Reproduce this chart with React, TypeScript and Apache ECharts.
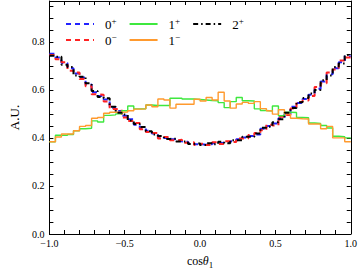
import React, { useEffect, useRef } from 'react';
import * as echarts from 'echarts';

// cos(theta1) histogram range and tick settings
const xRange = [-1, 1];
const yRange = [0, 0.97];
const xTickLabels = ['−1.0', '−0.5', '0.0', '0.5', '1.0'];
const yTickLabels = ['0.0', '0.2', '0.4', '0.6', '0.8'];

const seriesNames = ['0+', '0-', '1+', '1-', '2+'];

// 50 bins from -1 to 1
const zeroPlus = [
  0.750, 0.735, 0.712, 0.690, 0.668, 0.652, 0.622, 0.590, 0.575, 0.560,
  0.525, 0.512, 0.492, 0.478, 0.455, 0.440, 0.430, 0.418, 0.405, 0.400,
  0.394, 0.388, 0.384, 0.378, 0.374, 0.372, 0.374, 0.378, 0.380, 0.382,
  0.386, 0.394, 0.402, 0.408, 0.414, 0.438, 0.450, 0.460, 0.482, 0.500,
  0.530, 0.545, 0.562, 0.580, 0.605, 0.635, 0.665, 0.690, 0.715, 0.740,
];
const zeroMinus = [
  0.745, 0.728, 0.715, 0.680, 0.672, 0.645, 0.615, 0.582, 0.580, 0.552,
  0.520, 0.518, 0.485, 0.470, 0.462, 0.436, 0.425, 0.420, 0.398, 0.404,
  0.390, 0.392, 0.380, 0.382, 0.370, 0.376, 0.370, 0.382, 0.375, 0.386,
  0.383, 0.398, 0.398, 0.412, 0.420, 0.432, 0.455, 0.452, 0.488, 0.495,
  0.522, 0.550, 0.556, 0.575, 0.612, 0.628, 0.672, 0.685, 0.722, 0.735,
];
const onePlus = [
  0.384, 0.411, 0.411, 0.414, 0.430, 0.438, 0.440, 0.471, 0.466, 0.494,
  0.496, 0.500, 0.513, 0.533, 0.521, 0.521, 0.537, 0.535, 0.535, 0.535,
  0.565, 0.565, 0.562, 0.562, 0.560, 0.558, 0.556, 0.555, 0.547, 0.526,
  0.551, 0.568, 0.555, 0.554, 0.521, 0.514, 0.512, 0.533, 0.492, 0.507,
  0.506, 0.485, 0.484, 0.462, 0.460, 0.452, 0.441, 0.407, 0.405, 0.400,
];
const oneMinus = [
  0.384, 0.404, 0.416, 0.416, 0.430, 0.448, 0.452, 0.482, 0.485, 0.503,
  0.507, 0.507, 0.508, 0.513, 0.520, 0.521, 0.537, 0.530, 0.562, 0.558,
  0.524, 0.540, 0.540, 0.540, 0.561, 0.554, 0.568, 0.558, 0.590, 0.554,
  0.524, 0.541, 0.548, 0.544, 0.551, 0.522, 0.513, 0.499, 0.517, 0.500,
  0.482, 0.480, 0.479, 0.458, 0.458, 0.438, 0.448, 0.400, 0.400, 0.384,
];
const twoPlus = [
  0.742, 0.738, 0.705, 0.695, 0.660, 0.655, 0.628, 0.595, 0.570, 0.565,
  0.530, 0.505, 0.498, 0.472, 0.458, 0.445, 0.428, 0.414, 0.408, 0.396,
  0.397, 0.385, 0.386, 0.375, 0.377, 0.370, 0.378, 0.374, 0.384, 0.378,
  0.390, 0.390, 0.405, 0.405, 0.418, 0.442, 0.446, 0.465, 0.478, 0.505,
  0.525, 0.548, 0.566, 0.585, 0.600, 0.640, 0.660, 0.695, 0.710, 0.745,
];

const seriesValues = [zeroPlus, zeroMinus, onePlus, oneMinus, twoPlus];

function toSteps(vals: number[]) {
  const n = vals.length;
  const w = (xRange[1] - xRange[0]) / n;
  const pts: number[][] = vals.map((v, i) => [xRange[0] + i * w, v]);
  pts.push([xRange[1], vals[n - 1]]);
  return pts;
}

const FONT = 'Liberation Serif';

export default function App() {
  const ref = useRef<HTMLDivElement>(null);
  useEffect(() => {
    if (!ref.current) return;
    const chart = echarts.init(ref.current, null, { renderer: 'svg' });

    const styles = [
      { color: '#2222ff', width: 2, type: [5, 4] as any },
      { color: '#ff2222', width: 2, type: [5, 4] as any },
      { color: '#3ee83e', width: 1.4, type: 'solid' as any },
      { color: '#ff9a2e', width: 1.4, type: 'solid' as any },
      { color: '#000000', width: 2, type: [5, 3, 1.5, 3] as any },
    ];

    const xLabel = (v: number) => {
      if (Math.abs(v * 2 - Math.round(v * 2)) > 1e-6) return '';
      const idx = Math.round((v - xRange[0]) * 2);
      return xTickLabels[idx] ?? '';
    };
    const yLabel = (v: number) => {
      if (Math.abs(v * 5 - Math.round(v * 5)) > 1e-6) return '';
      return yTickLabels[Math.round(v * 5)] ?? '';
    };

    const axisCommon = {
      axisLine: { onZero: false, lineStyle: { color: '#000', width: 1 } },
      axisTick: { inside: true, length: 4, lineStyle: { color: '#000' } },
      splitLine: { show: false },
    };

    const legendFmt = (name: string) =>
      `${name[0]}{s|${name[1] === '+' ? '+' : '−'}}`;
    const legendText = {
      fontFamily: FONT,
      fontSize: 13,
      color: '#000',
      lineHeight: 16,
      padding: [0, 0, 0, 6],
      rich: {
        s: { fontFamily: FONT, fontSize: 9, lineHeight: 9, verticalAlign: 'top', color: '#000' },
      },
    };

    chart.setOption({
      animation: false,
      backgroundColor: '#fff',
      grid: { left: 37, right: 7, top: 1, bottom: 37, containLabel: false },
      legend: [
        {
          data: ['0+', '1+', '2+'],
          left: 60,
          top: 11,
          itemWidth: 28,
          itemHeight: 10,
          itemGap: 12,
          itemStyle: { opacity: 0 },
          formatter: legendFmt,
          textStyle: legendText,
        },
        {
          data: ['0-', '1-'],
          left: 60,
          top: 27,
          itemWidth: 28,
          itemHeight: 10,
          itemGap: 12,
          itemStyle: { opacity: 0 },
          formatter: legendFmt,
          textStyle: legendText,
        },
      ],
      xAxis: [
        {
          type: 'value',
          min: xRange[0],
          max: xRange[1],
          interval: 0.1,
          position: 'bottom',
          ...axisCommon,
          axisLabel: {
            formatter: xLabel,
            fontFamily: FONT,
            fontSize: 10,
            color: '#000',
            margin: 4,
          },
          name: 'cos{t|θ}{b|1}',
          nameLocation: 'middle',
          nameGap: 19,
          nameTextStyle: {
            fontFamily: FONT,
            fontSize: 12,
            color: '#000',
            lineHeight: 16,
            rich: {
              t: { fontFamily: FONT, fontSize: 12, fontStyle: 'italic', color: '#000', lineHeight: 16 },
              b: { fontFamily: FONT, fontSize: 9, lineHeight: 9, verticalAlign: 'bottom', color: '#000' },
            },
          },
        },
        {
          type: 'value',
          min: xRange[0],
          max: xRange[1],
          interval: 0.1,
          position: 'top',
          ...axisCommon,
          axisLabel: { show: false },
        },
      ],
      yAxis: [
        {
          type: 'value',
          min: yRange[0],
          max: yRange[1],
          interval: 0.05,
          position: 'left',
          ...axisCommon,
          axisLabel: {
            formatter: yLabel,
            fontFamily: FONT,
            fontSize: 10,
            color: '#000',
            margin: 5,
          },
          name: 'A.U.',
          nameLocation: 'middle',
          nameGap: 20,
          nameTextStyle: { fontFamily: FONT, fontSize: 13, color: '#000' },
        },
        {
          type: 'value',
          min: yRange[0],
          max: yRange[1],
          interval: 0.05,
          position: 'right',
          ...axisCommon,
          axisLabel: { show: false },
        },
      ],
      series: seriesNames.map((name, i) => ({
        name,
        type: 'line',
        step: 'end',
        symbol: 'none',
        xAxisIndex: 0,
        yAxisIndex: 0,
        color: styles[i].color,
        lineStyle: styles[i],
        data: toSteps(seriesValues[i]),
        z: 2 + i,
      })),
    });
    return () => chart.dispose();
  }, []);

  return (
    <div
      ref={ref}
      style={{ position: 'absolute', left: 0, top: 0, width: 360, height: 274 }}
    />
  );
}
